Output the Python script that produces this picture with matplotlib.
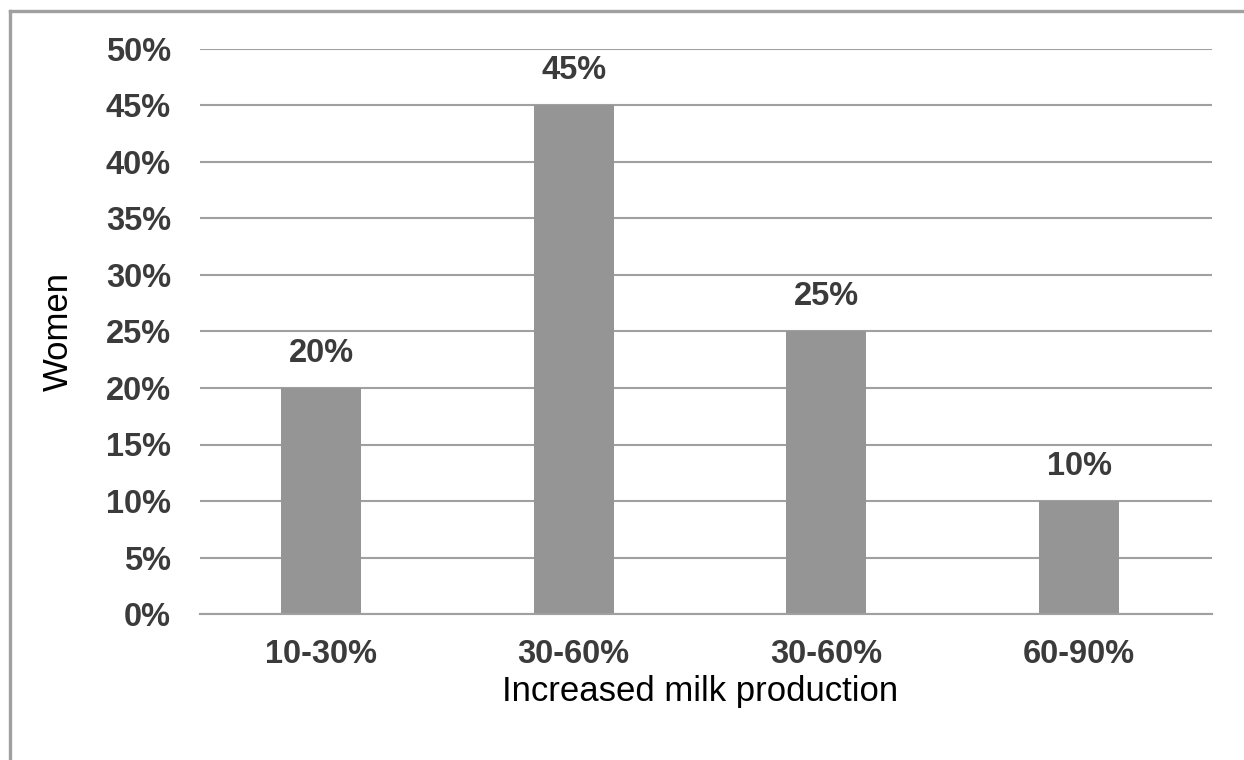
import matplotlib
matplotlib.use("Agg")
import matplotlib.pyplot as plt
from matplotlib.lines import Line2D
import numpy as np

categories = ["10-30%", "30-60%", "30-60%", "60-90%"]
values = [20, 45, 25, 10]
y_ticks = [0, 5, 10, 15, 20, 25, 30, 35, 40, 45, 50]

plt.rcParams["font.family"] = ["Liberation Sans", "DejaVu Sans"]

text_color = "#3b3b3b"
grid_color = "#a0a0a0"
bar_color = "#959595"

fig = plt.figure(figsize=(12.44, 7.6), dpi=100)
ax = fig.add_axes([200 / 1244, 146 / 760, 1012 / 1244, 565 / 760])

x = np.arange(len(categories))
bars = ax.bar(x, values, width=0.317, color=bar_color, zorder=3)

ax.set_xlim(-0.479, 3.526)
ax.set_ylim(0, 50)
ax.set_yticks(y_ticks)
ax.set_yticklabels([f"{v}%" for v in y_ticks])
ax.set_xticks(x)
ax.set_xticklabels(categories)

ax.yaxis.grid(True, color=grid_color, linewidth=1.5, zorder=0)
ax.set_axisbelow(True)
for side in ["top", "right", "left"]:
    ax.spines[side].set_visible(False)
ax.spines["bottom"].set_color(grid_color)
ax.spines["bottom"].set_linewidth(1.5)
ax.spines["bottom"].set_zorder(4)

ax.tick_params(axis="both", length=0, labelcolor=text_color, labelsize=23.5)
ax.tick_params(axis="y", pad=21)
ax.tick_params(axis="x", pad=18)
for lab in ax.get_xticklabels() + ax.get_yticklabels():
    lab.set_fontweight("bold")

for xi, v in zip(x, values):
    ax.annotate(f"{v}%", xy=(xi, v), xytext=(0, 14), textcoords="offset points",
                ha="center", va="bottom", fontsize=23.5, fontweight="bold",
                color=text_color)

fig.text(58 / 1244, 1 - 331 / 760, "Women", rotation=90, ha="center", va="center",
         fontsize=25, color="black")
fig.text(700 / 1244, 1 - 691 / 760, "Increased milk production", ha="center",
         va="center", fontsize=25, color="black")

# partial frame around the chart area
fig.add_artist(Line2D([10 / 1244, 10 / 1244], [0, 1 - 11 / 760],
                      transform=fig.transFigure, color=grid_color, linewidth=2.4))
fig.add_artist(Line2D([10 / 1244, 1], [1 - 11 / 760, 1 - 11 / 760],
                      transform=fig.transFigure, color=grid_color, linewidth=2.4))

fig.savefig("out.png", dpi=100, facecolor="white")
